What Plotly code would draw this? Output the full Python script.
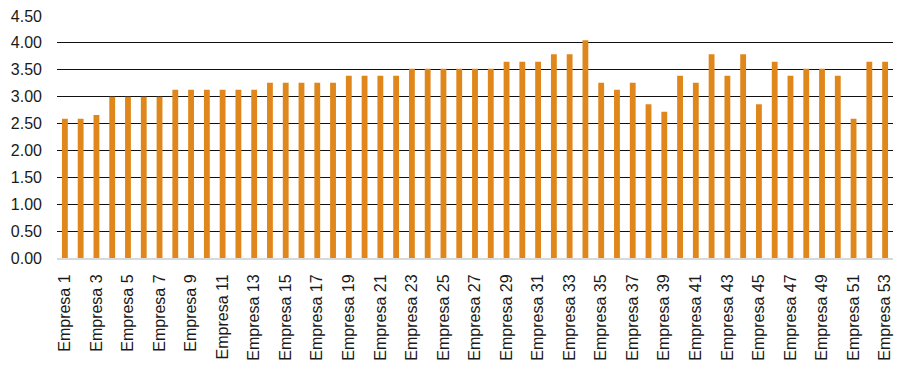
import plotly.graph_objects as go

categories = [f"Empresa {i}" for i in range(1, 54)]
values = [2.59, 2.59, 2.66, 3.00, 3.00, 3.00, 3.00, 3.13, 3.13, 3.13,
          3.13, 3.13, 3.13, 3.26, 3.26, 3.26, 3.26, 3.26, 3.39, 3.39,
          3.39, 3.39, 3.52, 3.52, 3.52, 3.52, 3.52, 3.52, 3.65, 3.65,
          3.65, 3.79, 3.79, 4.05, 3.26, 3.13, 3.26, 2.86, 2.72, 3.39,
          3.26, 3.79, 3.39, 3.79, 2.86, 3.65, 3.39, 3.52, 3.52, 3.39,
          2.59, 3.65, 3.65]
tick_labels = categories[::2]
y_ticks = [0, 0.5, 1, 1.5, 2, 2.5, 3, 3.5, 4, 4.5]

fig = go.Figure(go.Bar(x=categories, y=values, marker_color="#E0871B",
                       marker_line_width=0))
fig.update_layout(
    width=901, height=371,
    margin=dict(l=57, r=8, t=16, b=113, autoexpand=False),
    paper_bgcolor="white", plot_bgcolor="white",
    bargap=0.63, showlegend=False,
    font=dict(family="Liberation Sans, Arial, sans-serif", size=16, color="#1a1a1a"),
)
fig.update_yaxes(range=[0, 4.5], tickvals=y_ticks, tickformat=".2f",
                 showgrid=True, gridcolor="#111111", gridwidth=1.3,
                 zeroline=False, showline=False, ticks="",
                 ticklabelstandoff=14, tickfont=dict(size=16))
fig.update_xaxes(type="category", tickvals=tick_labels, ticktext=tick_labels,
                 range=[-0.5, len(categories) - 0.5],
                 tickangle=-90, showline=True, linecolor="#d9d9d9", linewidth=2,
                 showgrid=False, ticks="", ticklabelstandoff=8,
                 tickfont=dict(size=16))
fig.write_html(
    "out.html",
    config={"displayModeBar": False},
    post_script="document.body.style.margin='0';document.body.style.overflow='hidden';",
)
